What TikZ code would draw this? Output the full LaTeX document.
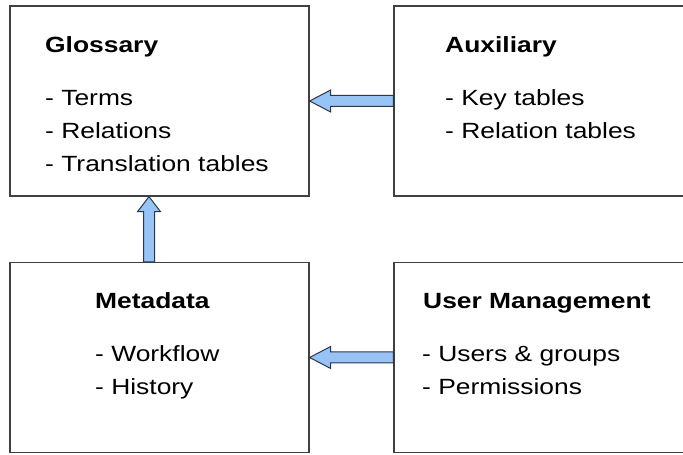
\documentclass[tikz,border=0pt]{standalone}
\usepackage{fontspec}
\setmainfont[FakeStretch=1.2]{Liberation Sans}
\usetikzlibrary{calc}
\definecolor{boxline}{RGB}{64,64,64}
\definecolor{arrowfill}{RGB}{150,196,246}
\definecolor{arrowline}{RGB}{44,54,74}
\tikzset{
  part/.style={draw=boxline,line width=1.3pt,rectangle,inner sep=0pt,
    minimum width=299pt,minimum height=190pt},
  parttitle/.style={anchor=base west,inner sep=0pt,font=\fontsize{22}{26}\selectfont\bfseries},
  partitem/.style={anchor=base west,inner sep=0pt,font=\fontsize{22}{26}\selectfont},
  blkarrow/.style={draw=arrowline,fill=arrowfill,line width=1pt,line join=miter}
}

\begin{document}
\begin{tikzpicture}[x=1pt,y=1pt]
    \clip (0,0) rectangle (683,455);
    % the four parts
    \node(gloss)[part] at (159.5,354) {};
    \node(aux)[part]   at (543.5,354) {};
    \node(meta)[part]  at (159.5,97.5) {};
    \node(user)[part]  at (543.5,97.5) {};

    \node(glosstitle)[parttitle] at (45,402) {Glossary};
    \foreach \txt [count=\i] in {Terms,Relations,Translation tables}
        \node(glossitem\i)[partitem] at (45,{382-33*\i}) {- \txt};

    \node(auxtitle)[parttitle] at (445,402) {Auxiliary};
    \foreach \txt [count=\i] in {Key tables,Relation tables}
        \node(auxitem\i)[partitem] at (445,{382-33*\i}) {- \txt};

    \node(metatitle)[parttitle] at (95,146) {Metadata};
    \foreach \txt [count=\i] in {Workflow,History}
        \node(metaitem\i)[partitem] at (95,{126-33*\i}) {- \txt};

    \node(usertitle)[parttitle] at (423,146) {User Management};
    \foreach \txt [count=\i] in {Users \& groups,Permissions}
        \node(useritem\i)[partitem] at (422,{126-33*\i}) {- \txt};

    % block arrows
    \draw[blkarrow] ($(aux.west)+(0,-5.5)$) -- ($(gloss.east)+(21,-5.5)$) -- ++(0,-5.5)
        -- (gloss.east) -- ++(21,11) -- ++(0,-5.5) -- ($(aux.west)+(0,5.5)$) -- cycle;
    \draw[blkarrow] ($(user.west)+(0,-5.5)$) -- ($(meta.east)+(21,-5.5)$) -- ++(0,-5.5)
        -- (meta.east) -- ++(21,11) -- ++(0,-5.5) -- ($(user.west)+(0,5.5)$) -- cycle;
    \coordinate(vtail) at ($(meta.north)+(-10.5,0)$);
    \coordinate(vtip) at ($(gloss.south)+(-10.5,0)$);
    \draw[blkarrow] ($(vtail)+(-5.5,0)$) -- ($(vtip)+(-5.5,-15)$) -- ++(-6,0)
        -- (vtip) -- ++(11.5,-15) -- ++(-6,0) -- ($(vtail)+(5.5,0)$) -- cycle;
\end{tikzpicture}
\end{document}
